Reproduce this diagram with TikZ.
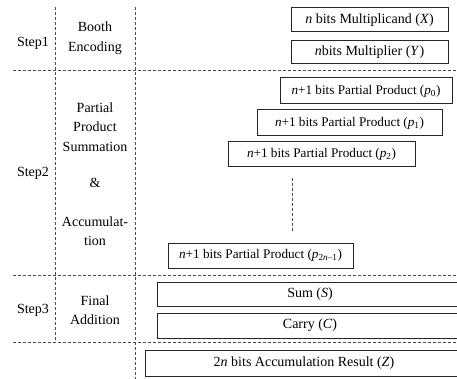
\documentclass[tikz,border=0pt]{standalone}
\usepackage{fontspec}
\setmainfont{Liberation Serif}
\begin{document}
\begin{tikzpicture}[x=1pt,y=-1pt,
  every node/.style={font=\fontsize{14}{14}\selectfont, inner sep=0pt},
  bitbox/.style={draw=black!85, line width=1pt, rectangle, inner sep=0pt},
  ppbox/.style={bitbox, font=\fontsize{13.2}{14}\selectfont},
  sep/.style={draw=black!70, line width=0.7pt, dash pattern=on 3pt off 2pt},
  lbl/.style={align=center, font=\fontsize{14}{19.5}\selectfont}]
\useasboundingbox (0,0) rectangle (457,379);
\clip (0,0) rectangle (457,379);
% separators
\coordinate (h1l) at (13,70);  \coordinate (h1r) at (457,70);
\coordinate (h2l) at (13,275); \coordinate (h2r) at (457,275);
\coordinate (h3l) at (13,342); \coordinate (h3r) at (457,342);
\coordinate (v1t) at (55,7);   \coordinate (v1b) at (55,342);
\coordinate (v2t) at (135,7);  \coordinate (v2b) at (135,379);
\draw[sep] (h1l) -- (h1r);
\draw[sep] (h2l) -- (h2r);
\draw[sep] (h3l) -- (h3r);
\draw[sep] (v1t) -- (v1b);
\draw[sep] (v2t) -- (v2b);
% step labels
\node (s1) at (33,43) {Step1};
\node (s2) at (33,173) {Step2};
\node (s3) at (33,310) {Step3};
\node[lbl] (d1) at (95,38) {Booth\\Encoding};
\node[lbl] (d2) at (95,127) {Partial\\Product\\Summation};
\node (amp) at (95,183) {\&};
\node[lbl] (d2b) at (95,231) {Accumulat-\\tion};
\node[lbl] (d3) at (95,310) {Final\\Addition};
% boxes
\node[bitbox, minimum width=157pt, minimum height=24pt] (X) at (369.5,20) {\textit{n} bits Multiplicand (\textit{X})};
\node[bitbox, minimum width=157pt, minimum height=23pt] (Y) at (369.5,52) {\textit{n}bits Multiplier (\textit{Y})};
\node[ppbox, minimum width=172pt, minimum height=26pt] (p0) at (366,91) {\textit{n}+1 bits Partial Product (\textit{p}\textsubscript{0})};
\node[ppbox, minimum width=185pt, minimum height=26pt] (p1) at (349.5,123) {\textit{n}+1 bits Partial Product (\textit{p}\textsubscript{1})};
\node[ppbox, minimum width=187pt, minimum height=25pt] (p2) at (321.5,154.5) {\textit{n}+1 bits Partial Product (\textit{p}\textsubscript{2})};
\node[ppbox, minimum width=185pt, minimum height=25pt] (pn) at (260.5,255.5) {\textit{n}+1 bits Partial Product (\textit{p}\textsubscript{2\textit{n}–1})};
\node[bitbox, minimum width=306pt, minimum height=24pt] (S) at (310,294) {Sum (\textit{S})};
\node[bitbox, minimum width=306pt, minimum height=25pt] (C) at (310,325.5) {Carry (\textit{C})};
\node[bitbox, minimum width=318pt, minimum height=26pt] (Z) at (304,363) {2\textit{n} bits Accumulation Result (\textit{Z})};
% dots between p2 and p_{2n-1}
\coordinate (dt) at (292,178);
\coordinate (db) at (292,232);
\draw[sep] (dt) -- (db);
\end{tikzpicture}
\end{document}
